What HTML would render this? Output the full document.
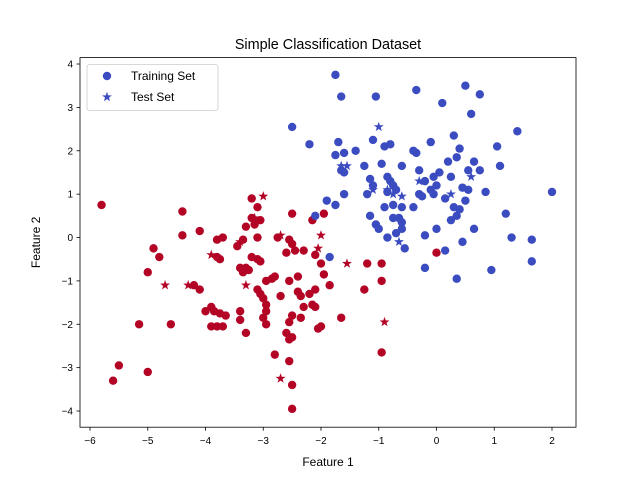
<!DOCTYPE html>
<html><head><meta charset="utf-8"><style>body{margin:0;background:#fff}svg{font-family:"Liberation Sans","DejaVu Sans",sans-serif}</style></head>
<body>
<svg id="chart" width="640" height="480"></svg>
<script>
const xTicks=[-6,-5,-4,-3,-2,-1,0,1,2];
const yTicks=[-4,-3,-2,-1,0,1,2,3,4];
const trainRed=[[-5.8,0.75],[-4.4,0.6],[-4.4,0.05],[-4.1,0.15],[-4.8,-0.45],[-4.9,-0.25],[-5.0,-0.8],[-4.1,-1.2],[-4.2,-1.1],[-5.15,-2.0],[-4.6,-2.0],[-5.5,-2.95],[-5.6,-3.3],[-5.0,-3.1],
[-3.8,-0.45],[-3.75,-0.5],[-3.8,-0.05],[-3.7,0.0],[-3.45,-0.2],[-3.35,-0.05],[-3.3,0.25],[-3.2,0.45],[-3.15,0.3],[-3.2,0.9],[-3.1,0.7],[-3.05,0.4],[-3.1,0.0],[-3.4,-0.7],[-3.3,-0.7],[-3.35,-0.8],[-3.25,-0.75],[-3.2,-0.45],[-3.1,-0.5],[-3.05,-0.55],
[-3.9,-1.6],[-3.85,-1.7],[-3.75,-1.75],[-3.65,-1.8],[-3.9,-2.05],[-3.8,-2.05],[-3.7,-2.05],[-3.4,-1.7],[-3.4,-1.9],[-3.3,-2.2],[-4.0,-1.7],
[-3.1,-1.2],[-3.05,-1.3],[-3.0,-1.4],[-2.95,-1.55],[-2.95,-1.7],[-2.95,-1.0],[-2.85,-0.95],[-3.0,-1.85],[-2.7,-1.35],[-2.8,-0.9],[-2.75,0.0],[-2.8,-2.7],[-2.95,-2.0],
[-2.5,0.55],[-2.55,-0.05],[-2.5,-0.15],[-2.45,-0.3],[-2.3,-0.3],[-2.1,-0.4],[-2.0,-0.6],[-2.6,-0.35],[-2.4,-0.9],[-2.15,0.4],[-2.55,-1.0],[-2.2,-1.3],[-2.15,-1.55],[-2.1,-1.2],[-2.3,-1.6],[-2.35,-1.35],[-2.4,-1.25],[-2.35,-1.85],[-2.5,-1.8],[-2.55,-1.95],[-2.6,-2.2],[-2.5,-2.3],[-2.55,-2.35],[-2.55,-2.85],[-2.5,-3.4],[-2.5,-3.95],[-2.0,-2.05],[-2.05,-2.1],[-1.95,-0.85],[-1.85,-1.1],[-1.65,-1.85],[-1.25,-1.2],[-1.2,-0.6],[-0.95,-0.6],[-0.95,-1.0],[-0.95,-2.65],[-2.1,-1.6],[-1.95,0.55],[0.0,-0.35]];
const testRed=[[-4.7,-1.1],[-4.3,-1.1],[-3.9,-0.4],[-3.4,-0.1],[-3.3,-1.1],[-3.0,0.95],[-3.15,0.45],[-2.7,0.05],[-2.7,-3.25],[-2.05,-0.25],[-1.55,-0.6],[-0.9,-1.95],[-2.0,0.05]];
const trainBlue=[[-1.75,3.75],[-1.65,3.25],[-1.05,3.25],[-0.35,3.4],[0.1,3.1],[0.5,3.5],[0.75,3.3],[0.6,2.85],[-2.5,2.55],[-2.2,2.15],[-1.7,2.2],[-1.4,2.0],[-1.25,1.65],[-0.1,2.2],[-0.8,2.15],[-1.6,1.95],[-1.75,1.9],[-1.65,1.55],[-1.6,1.5],[-1.1,2.25],[-0.9,2.1],[-0.95,1.7],[-0.6,1.65],[-0.4,2.0],[-0.35,1.95],[-0.3,1.55],[0.3,2.35],[0.4,2.05],[1.05,2.1],[1.4,2.45],[0.65,1.75],[0.75,1.55],[1.1,1.65],[0.55,1.55],[-1.6,1.0],[-1.9,0.85],[-1.75,0.75],[-2.1,0.5],[-1.85,-0.45],[-1.15,1.35],[-1.1,1.2],[-1.2,1.0],[-1.15,0.5],[-1.05,0.3],[-1.0,0.2],[-0.85,1.4],[-0.8,1.3],[-0.75,1.2],[-0.7,1.1],[-0.85,1.05],[-0.9,0.7],[-0.75,0.75],[-0.6,0.7],[-0.75,0.45],[-0.65,0.45],[-0.6,0.35],[-0.85,0.0],[-0.7,0.1],[-0.55,-0.25],[-0.6,0.2],[-0.4,0.7],[-0.3,1.0],[-0.25,0.95],[-0.2,1.3],[-0.1,1.1],[-0.05,1.0],[0.0,1.2],[-0.05,1.4],[0.05,1.5],[0.2,1.75],[0.25,1.4],[0.35,1.85],[0.3,0.7],[0.4,0.65],[0.35,0.5],[0.25,0.4],[0.45,1.15],[0.55,1.1],[0.15,0.9],[0.5,0.85],[0.0,0.2],[-0.2,0.05],[0.15,-0.3],[-0.2,-0.7],[0.35,-0.95],[0.95,-0.75],[0.85,1.05],[1.2,0.55],[1.3,0.0],[1.65,-0.05],[1.65,-0.55],[2.0,1.05],[0.65,0.2],[0.45,-0.1]];
const testBlue=[[-1.0,2.55],[-1.1,1.1],[-1.65,1.65],[-1.55,1.65],[-0.3,1.3],[-0.6,0.95],[-0.75,1.0],[0.25,1.0],[-0.65,-0.1],[0.6,1.4],[-0.85,1.1]];

const NS='http://www.w3.org/2000/svg';
const svg=document.getElementById('chart');
const L=80,R=576,T=57.6,B=427.2;
const xMin=-6.1732,xMax=2.4156,yMin=-4.373,yMax=4.148;
const sx=v=>L+(v-xMin)/(xMax-xMin)*(R-L);
const sy=v=>B-(v-yMin)/(yMax-yMin)*(B-T);
function mk(tag,attrs,parent){const e=document.createElementNS(NS,tag);for(const k in attrs)e.setAttribute(k,attrs[k]);(parent||svg).appendChild(e);return e;}
const RED='#b40426',BLUE='#3b4cc0';
function star(cx,cy,r){let p=[];for(let i=0;i<10;i++){const a=-Math.PI/2+i*Math.PI/5;const rr=i%2?r*0.4:r;p.push((cx+rr*Math.cos(a)).toFixed(2)+','+(cy+rr*Math.sin(a)).toFixed(2));}return p.join(' ');}
const plot=mk('g',{});


function drawCircles(arr,color,name){arr.forEach(d=>{const c=mk('circle',{cx:sx(d[0]),cy:sy(d[1]),r:4.2,fill:color},plot);

});}
function drawStars(arr,color,name){arr.forEach(d=>{const s=mk('polygon',{points:star(sx(d[0]),sy(d[1]),5.2),fill:color},plot);

});}
drawCircles(trainRed,RED,'train-point-class-1');
drawCircles(trainBlue,BLUE,'train-point-class-0');
drawStars(testRed,RED,'test-point-class-1');
drawStars(testBlue,BLUE,'test-point-class-0');
const frame=mk('rect',{x:L,y:T,width:R-L,height:B-T,fill:'none',stroke:'#000','stroke-width':0.8});


xTicks.forEach(t=>{const x=sx(t);mk('line',{x1:x,x2:x,y1:B,y2:B+3.5,stroke:'#000','stroke-width':0.8});
const tx=mk('text',{x:x,y:B+17,'text-anchor':'middle','font-size':10,fill:'#000'});tx.textContent=String(t).replace('-','\u2212');

});
yTicks.forEach(t=>{const y=sy(t);mk('line',{x1:L-3.5,x2:L,y1:y,y2:y,stroke:'#000','stroke-width':0.8});
const tx=mk('text',{x:L-7,y:y+3.6,'text-anchor':'end','font-size':10,fill:'#000'});tx.textContent=String(t).replace('-','\u2212');

});
const title=mk('text',{x:(L+R)/2,y:49,'text-anchor':'middle','font-size':14.4});title.textContent='Simple Classification Dataset';


const xl=mk('text',{x:(L+R)/2,y:466,'text-anchor':'middle','font-size':12});xl.textContent='Feature 1';


const yl=mk('text',{x:40,y:(T+B)/2,'text-anchor':'middle','font-size':12,transform:'rotate(-90 40 '+((T+B)/2)+')'});yl.textContent='Feature 2';


const lg=mk('g',{});


mk('rect',{x:87,y:64.5,width:131,height:46,rx:2.5,fill:'#fff','fill-opacity':0.8,stroke:'#ccc','stroke-width':0.8},lg);
const e1=mk('circle',{cx:107,cy:76,r:4.2,fill:BLUE},lg);


const t1=mk('text',{x:131,y:80,'font-size':12},lg);t1.textContent='Training Set';


const e2=mk('polygon',{points:star(107,97,5.2),fill:BLUE},lg);


const t2=mk('text',{x:131,y:101,'font-size':12},lg);t2.textContent='Test Set';


</script>
</body></html>
